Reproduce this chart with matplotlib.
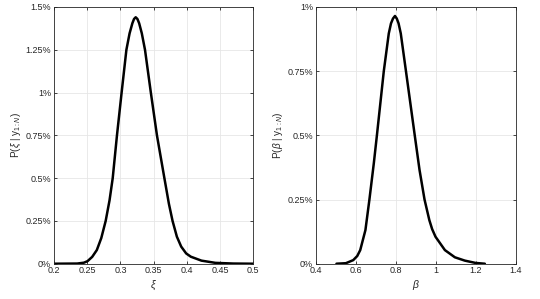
import matplotlib
matplotlib.use("Agg")
import matplotlib.pyplot as plt

plt.rcParams['font.family'] = ['Liberation Sans', 'DejaVu Sans']
plt.rcParams['mathtext.fontset'] = 'custom'
plt.rcParams['mathtext.rm'] = 'Liberation Sans'
plt.rcParams['mathtext.it'] = 'Liberation Sans:italic'

# Posterior of xi (percent)
xi_vals = [0.200, 0.235, 0.245, 0.2505, 0.2575, 0.2645, 0.2712, 0.2778, 0.2836,
           0.2884, 0.2948, 0.3018, 0.3090, 0.3138, 0.3180, 0.3205, 0.3230,
           0.3256, 0.3282, 0.3322, 0.3370, 0.3458, 0.3550, 0.3662, 0.3730,
           0.3785, 0.3850, 0.3915, 0.3990, 0.4060, 0.4220, 0.4430, 0.4700, 0.500]
p_xi = [0.000, 0.001, 0.006, 0.015, 0.040, 0.080, 0.150, 0.250, 0.370,
        0.500, 0.750, 1.000, 1.250, 1.346, 1.405, 1.430, 1.440,
        1.430, 1.405, 1.346, 1.250, 1.000, 0.750, 0.500, 0.350,
        0.250, 0.158, 0.100, 0.060, 0.041, 0.018, 0.005, 0.001, 0.000]

# Posterior of beta (percent)
beta_vals = [0.503, 0.550, 0.587, 0.607, 0.622, 0.648, 0.668, 0.690, 0.7055,
             0.740, 0.765, 0.776, 0.786, 0.796, 0.805, 0.814, 0.825, 0.851,
             0.895, 0.919, 0.944, 0.968, 0.982, 0.999, 1.046, 1.096, 1.146,
             1.200, 1.246]
p_beta = [0.000, 0.002, 0.014, 0.030, 0.053, 0.131, 0.250, 0.391, 0.500,
          0.750, 0.897, 0.936, 0.955, 0.965, 0.955, 0.936, 0.897, 0.750,
          0.500, 0.365, 0.250, 0.170, 0.135, 0.105, 0.053, 0.025, 0.012,
          0.003, 0.000]

xi_ticks = [0.2, 0.25, 0.3, 0.35, 0.4, 0.45, 0.5]
xi_ticklabels = ['0.2', '0.25', '0.3', '0.35', '0.4', '0.45', '0.5']
xi_yticks = [0, 0.25, 0.5, 0.75, 1.0, 1.25, 1.5]
xi_yticklabels = ['0%', '0.25%', '0.5%', '0.75%', '1%', '1.25%', '1.5%']

beta_ticks = [0.4, 0.6, 0.8, 1.0, 1.2, 1.4]
beta_ticklabels = ['0.4', '0.6', '0.8', '1', '1.2', '1.4']
beta_yticks = [0, 0.25, 0.5, 0.75, 1.0]
beta_yticklabels = ['0%', '0.25%', '0.5%', '0.75%', '1%']

fig = plt.figure(figsize=(5.4, 2.99), dpi=100)
ax1 = fig.add_axes([0.100, 0.118, 0.369, 0.8586])
ax2 = fig.add_axes([0.585, 0.118, 0.3698, 0.8586])

axis_col = '#262626'
fs = 6.5


def style(ax):
    ax.grid(True, color='#e6e6e6', linewidth=0.6)
    ax.set_axisbelow(True)
    for s in ax.spines.values():
        s.set_color(axis_col)
        s.set_linewidth(0.6)
    ax.tick_params(direction='in', top=True, right=True, length=2.5, width=0.6,
                   color=axis_col, labelsize=fs, labelcolor=axis_col, pad=2)


ax1.plot(xi_vals, p_xi, color='black', linewidth=1.8,
         solid_joinstyle='round', solid_capstyle='round')
ax1.set_xlim(0.2, 0.5)
ax1.set_ylim(0, 1.5)
ax1.set_xticks(xi_ticks)
ax1.set_xticklabels(xi_ticklabels)
ax1.set_yticks(xi_yticks)
ax1.set_yticklabels(xi_yticklabels)
style(ax1)
ax1.set_xlabel(r'$\xi$', fontsize=7.5, color=axis_col, labelpad=2)
ax1.set_ylabel(r'P($\xi$ | y$_{1:N}$)', fontsize=7.2, color=axis_col, labelpad=2)

ax2.plot(beta_vals, p_beta, color='black', linewidth=1.8,
         solid_joinstyle='round', solid_capstyle='round')
ax2.set_xlim(0.4, 1.4)
ax2.set_ylim(0, 1.0)
ax2.set_xticks(beta_ticks)
ax2.set_xticklabels(beta_ticklabels)
ax2.set_yticks(beta_yticks)
ax2.set_yticklabels(beta_yticklabels)
style(ax2)
ax2.set_xlabel(r'$\beta$', fontsize=7.5, color=axis_col, labelpad=2)
ax2.set_ylabel(r'P($\beta$ | y$_{1:N}$)', fontsize=7.2, color=axis_col, labelpad=2)

fig.savefig('out.png', dpi=100, facecolor='white')
